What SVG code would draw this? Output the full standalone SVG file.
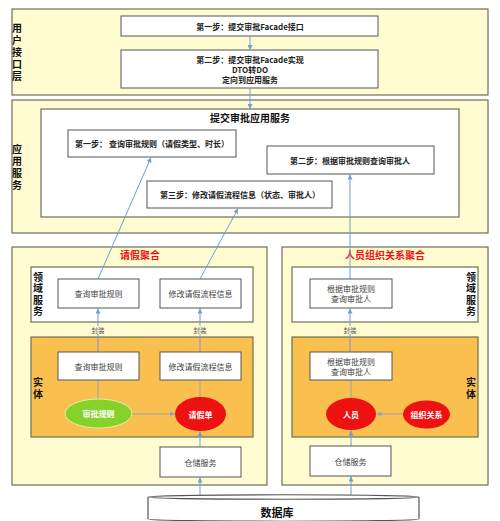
<svg xmlns="http://www.w3.org/2000/svg" width="500" height="521" viewBox="0 0 500 521">
<style>
text{font-family:"Noto Sans CJK SC","Liberation Sans",sans-serif;text-anchor:middle;dominant-baseline:central}
.vt{writing-mode:vertical-rl;text-anchor:start;letter-spacing:2px}
.layer{fill:#FFFCD2;stroke:#6E6E58;stroke-width:1.2}
.white{fill:#FFFFFF;stroke:#6E6E58;stroke-width:1.2}
.orange{fill:#F9C04F;stroke:#6E6E58;stroke-width:1.2}
.box{fill:#FFFFFF;stroke:#555555;stroke-width:1}
.step{font-size:8px;font-weight:bold;fill:#222}
.lbl{font-size:10px;font-weight:bold;fill:#111}
.red{font-size:10px;font-weight:bold;fill:#EE1111}
.sm{font-size:8px;fill:#444}
.tiny{font-size:6.5px;fill:#555}
.ell{font-size:8px;font-weight:bold;fill:#FFFFFF}
.arr{stroke:#6C9FD2;stroke-width:1;fill:none;marker-end:url(#ah)}
.gl{stroke:#9AA3AD;stroke-width:1;fill:none}
.garr{stroke:#9AA3AD;stroke-width:1;fill:none;marker-end:url(#gh)}
</style>
<defs>
<marker id="ah" viewBox="0 0 10 10" refX="10" refY="5" markerWidth="5" markerHeight="5" markerUnits="userSpaceOnUse" orient="auto"><path d="M0,0 L10,5 L0,10 z" fill="#6C9FD2"/></marker>
<marker id="gh" viewBox="0 0 10 10" refX="10" refY="5" markerWidth="5" markerHeight="5" markerUnits="userSpaceOnUse" orient="auto"><path d="M0,0 L10,5 L0,10 z" fill="#8FA6C0"/></marker>
</defs>

<g id="user-layer">
<rect class="layer" x="12" y="9" width="476" height="86"/>
<text class="lbl vt" x="17" y="23">用户接口层</text>
</g>
<g id="ui-step1">
<rect class="box" x="121" y="16" width="257" height="20"/>
<text class="step" x="250" y="26">第一步：提交审批Facade接口</text>
</g>
<g id="ui-step2">
<rect class="box" x="121" y="50" width="257" height="38"/>
<text class="step" x="250" y="59">第二步：提交审批Facade实现</text>
<text class="step" x="250" y="69">DTO转DO</text>
<text class="step" x="250" y="79">定向到应用服务</text>
</g>

<g id="app-layer">
<rect class="layer" x="12" y="100" width="476" height="133"/>
<text class="lbl vt" x="17" y="144">应用服务</text>
</g>
<g id="app-service">
<rect class="white" x="41" y="109" width="418" height="108"/>
<text class="lbl" x="250" y="117">提交审批应用服务</text>
</g>
<g id="app-step1">
<rect class="box" x="68" y="130" width="168" height="27"/>
<text class="step" x="152" y="143.5">第一步： 查询审批规则（请假类型、时长）</text>
</g>
<g id="app-step2">
<rect class="box" x="267" y="146" width="167" height="28"/>
<text class="step" x="350" y="160">第二步：根据审批规则查询审批人</text>
</g>
<g id="app-step3">
<rect class="box" x="147" y="181" width="185" height="27"/>
<text class="step" x="240" y="194.5">第三步：修改请假流程信息（状态、审批人）</text>
</g>

<g id="leave-aggregate">
<rect class="layer" x="12" y="247" width="255" height="238"/>
<text class="red" x="140" y="254">请假聚合</text>
<rect class="white" x="31" y="267" width="222" height="55"/>
<text class="lbl vt" x="38" y="272" style="letter-spacing:1.5px">领域服务</text>
<rect class="orange" x="31" y="337" width="222" height="100"/>
<text class="lbl vt" x="38" y="377">实体</text>
</g>
<g id="person-aggregate">
<rect class="layer" x="282" y="247" width="206" height="238"/>
<text class="red" x="385" y="254">人员组织关系聚合</text>
<rect class="white" x="292" y="267" width="186" height="55"/>
<text class="lbl vt" x="471" y="272" style="letter-spacing:1.5px">领域服务</text>
<rect class="orange" x="292" y="337" width="186" height="100"/>
<text class="lbl vt" x="471" y="377">实体</text>
</g>

<g id="connectors">
<line class="arr" x1="250" y1="36" x2="250" y2="50"/>
<line class="arr" x1="250" y1="88" x2="250" y2="109"/>
<line class="arr" x1="98" y1="279" x2="151" y2="157.5"/>
<line class="arr" x1="200" y1="279" x2="238" y2="208.5"/>
<line class="arr" x1="350" y1="279" x2="350" y2="174.5"/>
<line class="arr" x1="98" y1="352" x2="98" y2="308.5"/>
<line class="arr" x1="200" y1="352" x2="200" y2="308.5"/>
<line class="arr" x1="350" y1="352" x2="350" y2="308.5"/>
<rect x="90" y="326" width="16" height="8" fill="#FFFCD2"/>
<rect x="192" y="326" width="16" height="8" fill="#FFFCD2"/>
<rect x="342" y="326" width="16" height="8" fill="#FFFCD2"/>
<text class="tiny" x="98" y="330">封装</text>
<text class="tiny" x="200" y="330">封装</text>
<text class="tiny" x="350" y="330">封装</text>
<line class="gl" x1="98" y1="380" x2="98" y2="399"/>
<line class="gl" x1="200" y1="380" x2="200" y2="397"/>
<line class="gl" x1="351" y1="380" x2="351" y2="398"/>
<line class="garr" x1="132" y1="414" x2="175" y2="414"/>
<line class="garr" x1="403" y1="414" x2="376.5" y2="414"/>
<line class="arr" x1="200" y1="447" x2="200" y2="431.5"/>
<line class="arr" x1="351" y1="446" x2="351" y2="430.5"/>
<line class="arr" x1="200" y1="495" x2="200" y2="477.5"/>
<line class="arr" x1="351" y1="495" x2="351" y2="476.5"/>
</g>

<g id="leave-domain-query">
<rect class="box" x="58" y="279" width="81" height="29"/>
<text class="sm" x="98.5" y="293.5">查询审批规则</text>
</g>
<g id="leave-domain-modify">
<rect class="box" x="160" y="279" width="81" height="29"/>
<text class="sm" x="200.5" y="293.5">修改请假流程信息</text>
</g>
<g id="person-domain-query">
<rect class="box" x="310" y="279" width="82" height="29"/>
<text class="sm" x="351" y="288.5">根据审批规则</text>
<text class="sm" x="351" y="298.5">查询审批人</text>
</g>
<g id="leave-entity-query">
<rect class="box" x="58" y="352" width="81" height="28"/>
<text class="sm" x="98.5" y="366">查询审批规则</text>
</g>
<g id="leave-entity-modify">
<rect class="box" x="160" y="352" width="81" height="28"/>
<text class="sm" x="200.5" y="366">修改请假流程信息</text>
</g>
<g id="person-entity-query">
<rect class="box" x="310" y="352" width="82" height="28"/>
<text class="sm" x="351" y="361">根据审批规则</text>
<text class="sm" x="351" y="371">查询审批人</text>
</g>
<g id="approval-rule">
<ellipse cx="98.5" cy="413.5" rx="33.5" ry="14.5" fill="#86D22A" stroke="#E6F2A0" stroke-width="1"/>
<text class="ell" x="98.5" y="413.5">审批规则</text>
</g>
<g id="leave-form">
<ellipse cx="200.5" cy="414" rx="25.5" ry="17" fill="#EE1111"/>
<text class="ell" x="200.5" y="414">请假单</text>
</g>
<g id="person">
<ellipse cx="351" cy="414" rx="25" ry="16" fill="#EE1111"/>
<text class="ell" x="351" y="414">人员</text>
</g>
<g id="org-relation">
<ellipse cx="426.5" cy="414.5" rx="23.5" ry="14" fill="#EE1111"/>
<text class="ell" x="426.5" y="414.5">组织关系</text>
</g>
<g id="leave-repo">
<rect class="box" x="160" y="447" width="81" height="30"/>
<text class="sm" x="200.5" y="462">仓储服务</text>
</g>
<g id="person-repo">
<rect class="box" x="310" y="446" width="81" height="30"/>
<text class="sm" x="350.5" y="461">仓储服务</text>
</g>
<g id="database">
<path d="M148,497 C148,500 419,500 419,497 L419,519 C419,522 148,522 148,519 Z" fill="#FFFFFF" stroke="#555555" stroke-width="1.2"/>
<path d="M148,497 C148,494 419,494 419,497" fill="#FFFFFF" stroke="#555555" stroke-width="1.2"/>
<text class="lbl" x="277" y="512" style="font-size:11px">数据库</text>
</g>
</svg>
